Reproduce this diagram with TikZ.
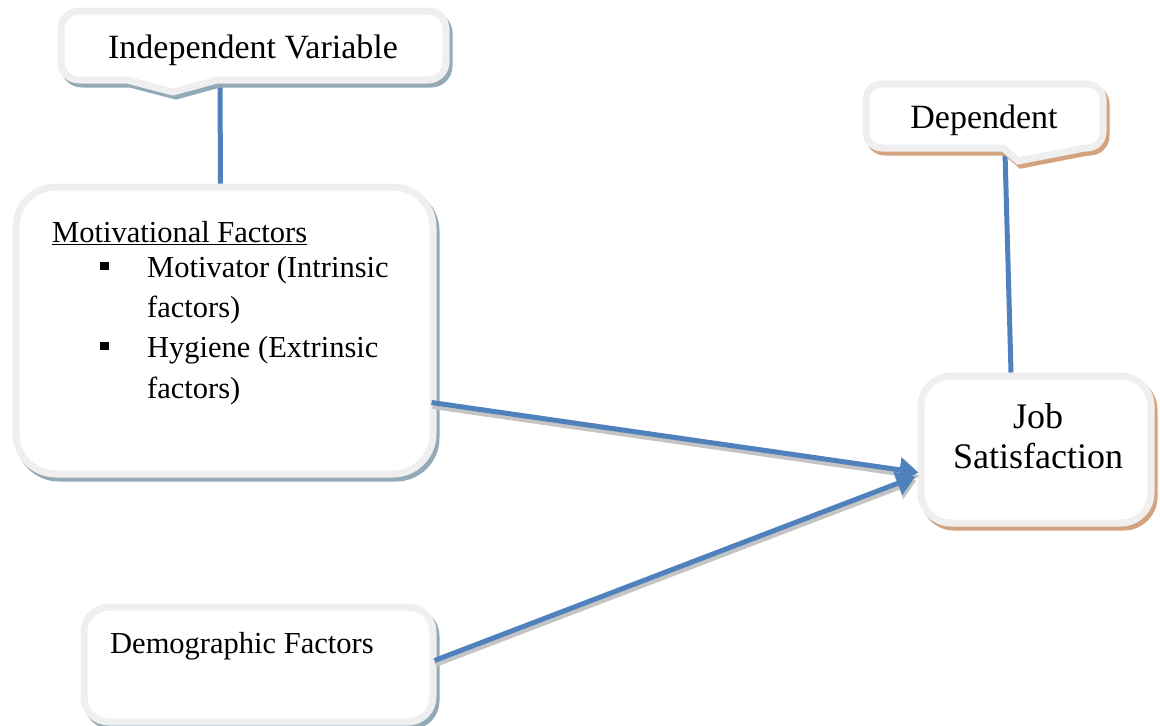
\documentclass[tikz,border=0pt]{standalone}
\usepackage{fontspec}
\newfontfamily\tnr{Liberation Serif}
\usetikzlibrary{arrows.meta,calc}

\definecolor{ringgray}{HTML}{EFEFEF}
\definecolor{blueshade}{HTML}{93AAB6}
\definecolor{tanshade}{HTML}{D3A27E}
\definecolor{linkblue}{HTML}{4F81BD}
\definecolor{linkshade}{HTML}{C4C4C4}

\begin{document}
\begin{tikzpicture}[x=1pt, y=-1pt,
    box/.style={draw=ringgray, fill=white, line width=7pt},
    shade/.style={preaction={draw=#1, fill=#1, line width=7pt,
        transform canvas={shift={(3,4)}}}},
    link/.style={draw=linkblue, line width=5pt},
    arrowlink/.style={link, -{Triangle[length=19pt,width=24pt]}},
    arrowshade/.style={arrowlink, draw=linkshade, transform canvas={shift={(1,4)}}},
    label/.style={inner sep=0pt, anchor=base, font=\tnr\fontsize{34}{38}\selectfont},
    txt/.style={inner sep=0pt, anchor=base west, font=\tnr\fontsize{30.5}{40}\selectfont}]
    \useasboundingbox (0,0) rectangle (1160,726);

    % callout tips where the lines leave
    \coordinate (indtip) at (220,84);
    \coordinate (deptip) at (1005,152);

    % boxes
    \node[box, shade=blueshade, rounded corners=40pt, minimum width=417pt,
        minimum height=287pt] (mot) at (224.5,330.5) {};
    \node[box, shade=tanshade, rounded corners=30pt, minimum width=230pt,
        minimum height=147pt] (job) at (1036,449.5) {};
    \node[box, shade=blueshade, rounded corners=25pt, minimum width=349pt,
        minimum height=115pt] (dem) at (258.5,664.5) {};

    % arrow ends
    \coordinate (motout) at ($(mot.east)+(-5,72)$);
    \coordinate (demout) at ($(dem.east)+(-2,-4)$);
    \coordinate (jobin1) at ($(job.west)+(1,23)$);
    \coordinate (jobin2) at ($(job.west)+(-2,27)$);

    % connectors
    \draw[link] (indtip) -- ($(mot.north)+(-4,0)$);
    \draw[link] (deptip) -- ($(job.north)+(-25,0)$);
    \draw[arrowshade] (motout) -- (jobin1);
    \draw[arrowshade] (demout) -- (jobin2);
    \draw[arrowlink] (motout) -- (jobin1);
    \draw[arrowlink] (demout) -- (jobin2);

    % callouts
    \draw[box, shade=blueshade, rounded corners=18pt] (127,80) -- (61,80) -- (61,11)
        -- (446,11) -- (446,80) [sharp corners] -- (217,80) -- (173,92) -- cycle;
    \draw[box, shade=tanshade, rounded corners=16pt] (1085,148) -- (1103,148) -- (1103,84)
        -- (866,84) -- (866,148) [sharp corners] -- (1003,148) -- (1018,161) -- cycle;
    \node[label] (indtxt) at (253,58) {Independent Variable};
    \node[label] (deptxt) at (984,128) {Dependent};

    % texts
    \node[txt] (motttl) at (52,242) {\underline{Motivational Factors}};
    \node[txt] (sq1) at (100,277) {\rule[7pt]{9pt}{8pt}};
    \node[txt] (mot1) at (147,277) {Motivator (Intrinsic};
    \node[txt] (mot2) at (147,317) {factors)};
    \node[txt] (sq2) at (100,357) {\rule[7pt]{9pt}{8pt}};
    \node[txt] (hyg1) at (147,357) {Hygiene (Extrinsic};
    \node[txt] (hyg2) at (147,398) {factors)};
    \node[txt, anchor=base, font=\tnr\fontsize{36}{40}\selectfont] (job1) at (1038,428) {Job};
    \node[txt, anchor=base, font=\tnr\fontsize{36}{40}\selectfont] (job2) at (1038,468) {Satisfaction};
    \node[txt] (demtxt) at (110,653) {Demographic Factors};
\end{tikzpicture}
\end{document}
